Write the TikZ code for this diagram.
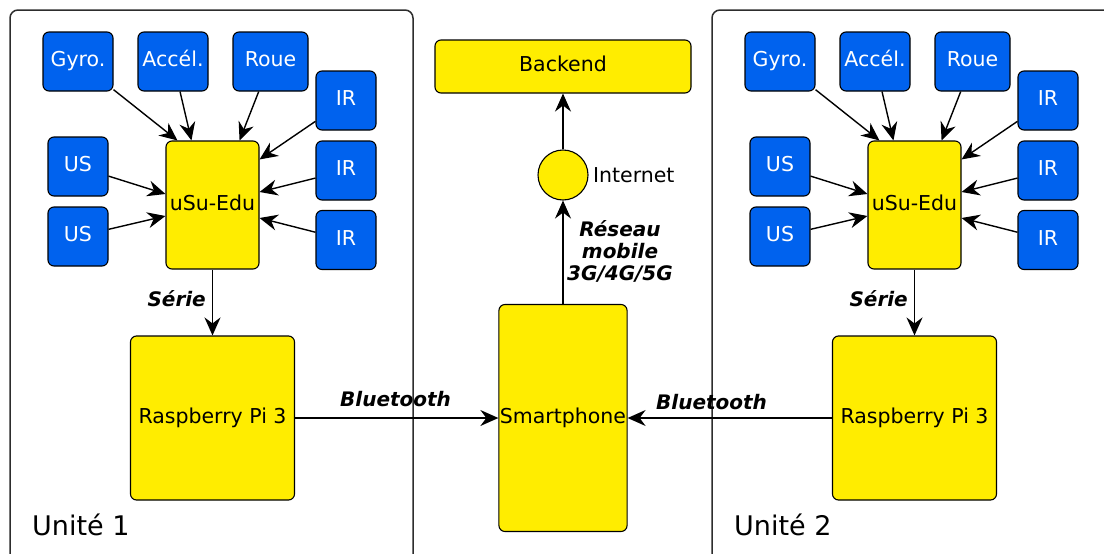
\documentclass[tikz,border=0pt]{standalone}
\usepackage{fontspec}
\setmainfont{DejaVu Sans}
\usepackage{tikz}
\usetikzlibrary{
  arrows.meta,
  positioning
}
\definecolor{SensorBlue}{RGB}{0, 98, 238}
\definecolor{BoardYellow}{RGB}{255, 237, 0}
\definecolor{FrameGray}{RGB}{45, 45, 45}
\tikzset{
    sensor/.style={rectangle, draw=black, line width=1.1pt, fill=SensorBlue, rounded corners=6pt, text=white, inner sep=1pt, minimum height=59pt, text height=15.5pt, text depth=5pt},
    board/.style={rectangle, draw=black, line width=1.1pt, fill=BoardYellow, rounded corners=6pt, inner sep=1pt, text height=15.5pt, text depth=5pt},
    unitframe/.style={draw=FrameGray, line width=1.5pt, rounded corners=8pt},
    link/.style={-{Stealth[length=18pt, width=16pt, inset=6pt]}, line width=1.4pt},
    linklabel/.style={font=\fontsize{20}{22}\selectfont\bfseries\itshape, inner sep=0pt}
}

\begin{document}
\begin{tikzpicture}[x=1pt, y=-1pt, font=\fontsize{20.5}{22}\selectfont]
            \useasboundingbox (0,0) rectangle (1104,554);
            \begin{scope}
            \clip (0,0) rectangle (1104,554);
            % the two identical units
            \foreach \u/\dx in {1/0, 2/702} {
                \begin{scope}[xshift=\dx]
                    \draw[unitframe] (10,10) rectangle (413,620);
                    \node[anchor=base west, inner sep=0pt, font=\fontsize{27}{30}\selectfont] (unit-\u) at (32,535) {Unité \u};
                    \node[sensor, minimum width=70pt] (gyro-\u) at (78,61.5) {Gyro.};
                    \node[sensor, minimum width=70pt] (accel-\u) at (173,61.5) {Accél.};
                    \node[sensor, minimum width=75pt] (roue-\u) at (270.5,61.5) {Roue};
                    \node[sensor, minimum width=60pt] (ir-a-\u) at (346,100.5) {IR};
                    \node[sensor, minimum width=60pt] (ir-b-\u) at (346,170.5) {IR};
                    \node[sensor, minimum width=60pt] (ir-c-\u) at (346,240) {IR};
                    \node[sensor, minimum width=60pt] (us-a-\u) at (78,166.5) {US};
                    \node[sensor, minimum width=60pt] (us-b-\u) at (78,236.5) {US};
                    \node[board, minimum width=93pt, minimum height=128pt] (usu-\u) at (212.5,205) {uSu-Edu};
                    \node[board, minimum width=164pt, minimum height=164pt] (rpi-\u) at (212.5,418) {Raspberry Pi 3};
                    % sensors to the board
                    \draw[link] (gyro-\u) -- ([xshift=12pt]usu-\u.north west);
                    \draw[link] (accel-\u) -- ([xshift=26pt]usu-\u.north west);
                    \draw[link] (roue-\u) -- ([xshift=-20pt]usu-\u.north east);
                    \draw[link] (ir-a-\u) -- ([yshift=-19pt]usu-\u.north east);
                    \draw[link] (ir-b-\u) -- ([yshift=13pt]usu-\u.east);
                    \draw[link] (ir-c-\u) -- ([yshift=-13pt]usu-\u.east);
                    \draw[link] (us-a-\u) -- ([yshift=11pt]usu-\u.west);
                    \draw[link] (us-b-\u) -- ([yshift=-11pt]usu-\u.west);
                    \draw[link] (usu-\u) -- (rpi-\u);
                    \node[linklabel, anchor=base east] (serie-\u) at (206,306) {Série};
                \end{scope}
            }
            \end{scope}
            % central part
            \node[board, minimum width=256pt, minimum height=53pt] (backend) at (563,66.5) {Backend};
            \node[board, circle, minimum size=50pt, label={[label distance=1pt]right:Internet}] (inet) at (563,175) {};
            \node[board, minimum width=127pt, minimum height=227pt] (phone) at (563,418) {Smartphone};
            \draw[link] (phone) -- (inet);
            \draw[link] (inet) -- (backend);
            \draw[link] (rpi-1) -- (phone);
            \draw[link] (rpi-2) -- (phone);
            \node[linklabel, align=center] (reseau) at (620,251) {Réseau\\mobile\\3G/4G/5G};
            \node[linklabel, anchor=base west] (bt-1) at (340,406) {Bluetooth};
            \node[linklabel, anchor=base west] (bt-2) at (656,409) {Bluetooth};
        \end{tikzpicture}
\end{document}
